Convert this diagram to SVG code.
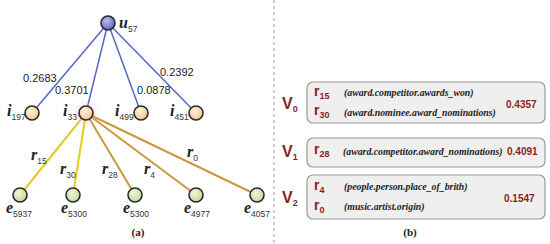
<svg xmlns="http://www.w3.org/2000/svg" width="550" height="244" viewBox="0 0 550 244">
<defs>
<radialGradient id="gu" cx="0.4" cy="0.35" r="0.7"><stop offset="0" stop-color="#b8bcf4"/><stop offset="1" stop-color="#5a60c8"/></radialGradient>
<radialGradient id="gi" cx="0.4" cy="0.35" r="0.7"><stop offset="0" stop-color="#fdf2de"/><stop offset="1" stop-color="#eec48c"/></radialGradient>
<radialGradient id="ge" cx="0.4" cy="0.35" r="0.7"><stop offset="0" stop-color="#eef5d8"/><stop offset="1" stop-color="#c4d898"/></radialGradient>
<filter id="glow" x="-50%" y="-50%" width="200%" height="200%"><feGaussianBlur stdDeviation="3"/></filter>
</defs>
<style>
.node{stroke:#2a2a2a;stroke-width:1.6}
.ub{stroke:#5468c4;stroke-width:1.5;fill:none}
.ey{stroke:#e2cc22;stroke-width:2;fill:none}
.eg{stroke:#c99a3c;stroke-width:2;fill:none}
.lbl{font-family:"Liberation Serif",serif;font-style:italic;font-weight:bold;font-size:16px;fill:#222}
.sub{font-family:"Liberation Sans",sans-serif;font-style:normal;font-weight:normal;font-size:8.5px;fill:#333}
.num{font-family:"Liberation Sans",sans-serif;font-size:11px;fill:#222}
.cap{font-family:"Liberation Serif",serif;font-weight:bold;font-size:11px;fill:#222}
.box{fill:#efefef;stroke:#999;stroke-width:1.2}
.V{font-family:"Liberation Sans",sans-serif;font-weight:bold;font-size:16px;fill:#8b1e1e}
.Vs{font-size:9px}
.r{font-family:"Liberation Sans",sans-serif;font-weight:bold;font-size:14px;fill:#8b1e1e}
.rs{font-size:9px;font-weight:bold}
.rel{font-family:"Liberation Serif",serif;font-style:italic;font-weight:bold;font-size:9.8px;fill:#222}
.sc{font-family:"Liberation Sans",sans-serif;font-weight:bold;font-size:10px;fill:#8b1e1e}
</style>
<g id="connectors">
<line class="ub" x1="108" y1="23" x2="32" y2="113"/>
<line class="ub" x1="108" y1="23" x2="86" y2="113"/>
<line class="ub" x1="108" y1="23" x2="141" y2="113"/>
<line class="ub" x1="108" y1="23" x2="196" y2="113"/>
<line class="ey" x1="86" y1="113" x2="20" y2="195"/>
<line class="ey" x1="86" y1="113" x2="73" y2="195"/>
<line class="eg" x1="86" y1="113" x2="135" y2="195"/>
<line class="eg" x1="86" y1="113" x2="196" y2="195"/>
<line class="eg" x1="86" y1="113" x2="257" y2="195"/>
</g>
<g id="edge-labels">
<text class="num" x="23" y="82">0.2683</text>
<text class="num" x="55" y="94">0.3701</text>
<text class="num" x="137" y="94">0.0878</text>
<text class="num" x="160" y="76">0.2392</text>
<text class="lbl" x="31" y="160">r<tspan class="sub" dy="4">15</tspan></text>
<text class="lbl" x="60" y="174">r<tspan class="sub" dy="4">30</tspan></text>
<text class="lbl" x="102" y="174">r<tspan class="sub" dy="4">28</tspan></text>
<text class="lbl" x="144" y="174">r<tspan class="sub" dy="4">4</tspan></text>
<text class="lbl" x="187" y="157">r<tspan class="sub" dy="4">0</tspan></text>
</g>
<g id="u57"><circle class="node" cx="108" cy="23" r="7" fill="url(#gu)"/><text class="lbl" x="119" y="28">u<tspan class="sub" dy="4">57</tspan></text></g>
<g id="i197"><circle class="node" cx="32" cy="113" r="7" fill="url(#gi)"/><text class="lbl" x="7" y="116">i<tspan class="sub" dy="4">197</tspan></text></g>
<g id="i33"><circle cx="86" cy="113" r="9" fill="#f6b8c4" opacity="0.6" filter="url(#glow)"/><circle class="node" cx="86" cy="113" r="7" fill="url(#gi)"/><text class="lbl" x="63" y="116">i<tspan class="sub" dy="4">33</tspan></text></g>
<g id="i499"><circle class="node" cx="141" cy="113" r="7" fill="url(#gi)"/><text class="lbl" x="115" y="116">i<tspan class="sub" dy="4">499</tspan></text></g>
<g id="i451"><circle class="node" cx="196" cy="113" r="7" fill="url(#gi)"/><text class="lbl" x="170" y="116">i<tspan class="sub" dy="4">451</tspan></text></g>
<g id="e5937"><circle class="node" cx="20" cy="195" r="7" fill="url(#ge)"/><text class="lbl" x="6" y="213">e<tspan class="sub" dy="4">5937</tspan></text></g>
<g id="e5300a"><circle class="node" cx="73" cy="195" r="7" fill="url(#ge)"/><text class="lbl" x="61" y="213">e<tspan class="sub" dy="4">5300</tspan></text></g>
<g id="e5300b"><circle class="node" cx="135" cy="195" r="7" fill="url(#ge)"/><text class="lbl" x="123" y="213">e<tspan class="sub" dy="4">5300</tspan></text></g>
<g id="e4977"><circle class="node" cx="196" cy="195" r="7" fill="url(#ge)"/><text class="lbl" x="184" y="213">e<tspan class="sub" dy="4">4977</tspan></text></g>
<g id="e4057"><circle class="node" cx="257" cy="195" r="7" fill="url(#ge)"/><text class="lbl" x="244" y="213">e<tspan class="sub" dy="4">4057</tspan></text></g>
<text class="cap" x="138" y="236" text-anchor="middle">(a)</text>
<line x1="274" y1="0" x2="274" y2="244" stroke="#999" stroke-width="1" stroke-dasharray="3,3"/>
<g id="V0">
<rect class="box" x="307" y="82" width="238" height="41" rx="6"/>
<text class="V" x="282" y="109">V<tspan class="Vs" dy="3">0</tspan></text>
<text class="r" x="314" y="96">r<tspan class="rs" dy="3">15</tspan></text>
<text class="r" x="314" y="115">r<tspan class="rs" dy="3">30</tspan></text>
<text class="rel" x="344" y="96">(award.competitor.awards_won)</text>
<text class="rel" x="344" y="116">(award.nominee.award_nominations)</text>
<text class="sc" x="506" y="108">0.4357</text>
</g>
<g id="V1">
<rect class="box" x="307" y="138" width="238" height="29" rx="6"/>
<text class="V" x="282" y="157">V<tspan class="Vs" dy="3">1</tspan></text>
<text class="r" x="314" y="154">r<tspan class="rs" dy="3">28</tspan></text>
<text class="rel" x="343" y="155">(award.competitor.award_nominations)</text>
<text class="sc" x="507" y="155">0.4091</text>
</g>
<g id="V2">
<rect class="box" x="307" y="175" width="238" height="44" rx="6"/>
<text class="V" x="282" y="203">V<tspan class="Vs" dy="3">2</tspan></text>
<text class="r" x="314" y="190">r<tspan class="rs" dy="3">4</tspan></text>
<text class="r" x="314" y="210">r<tspan class="rs" dy="3">0</tspan></text>
<text class="rel" x="344" y="190">(people.person.place_of_brith)</text>
<text class="rel" x="344" y="210">(music.artist.origin)</text>
<text class="sc" x="504" y="202">0.1547</text>
</g>
<text class="cap" x="410" y="236" text-anchor="middle">(b)</text>
</svg>
